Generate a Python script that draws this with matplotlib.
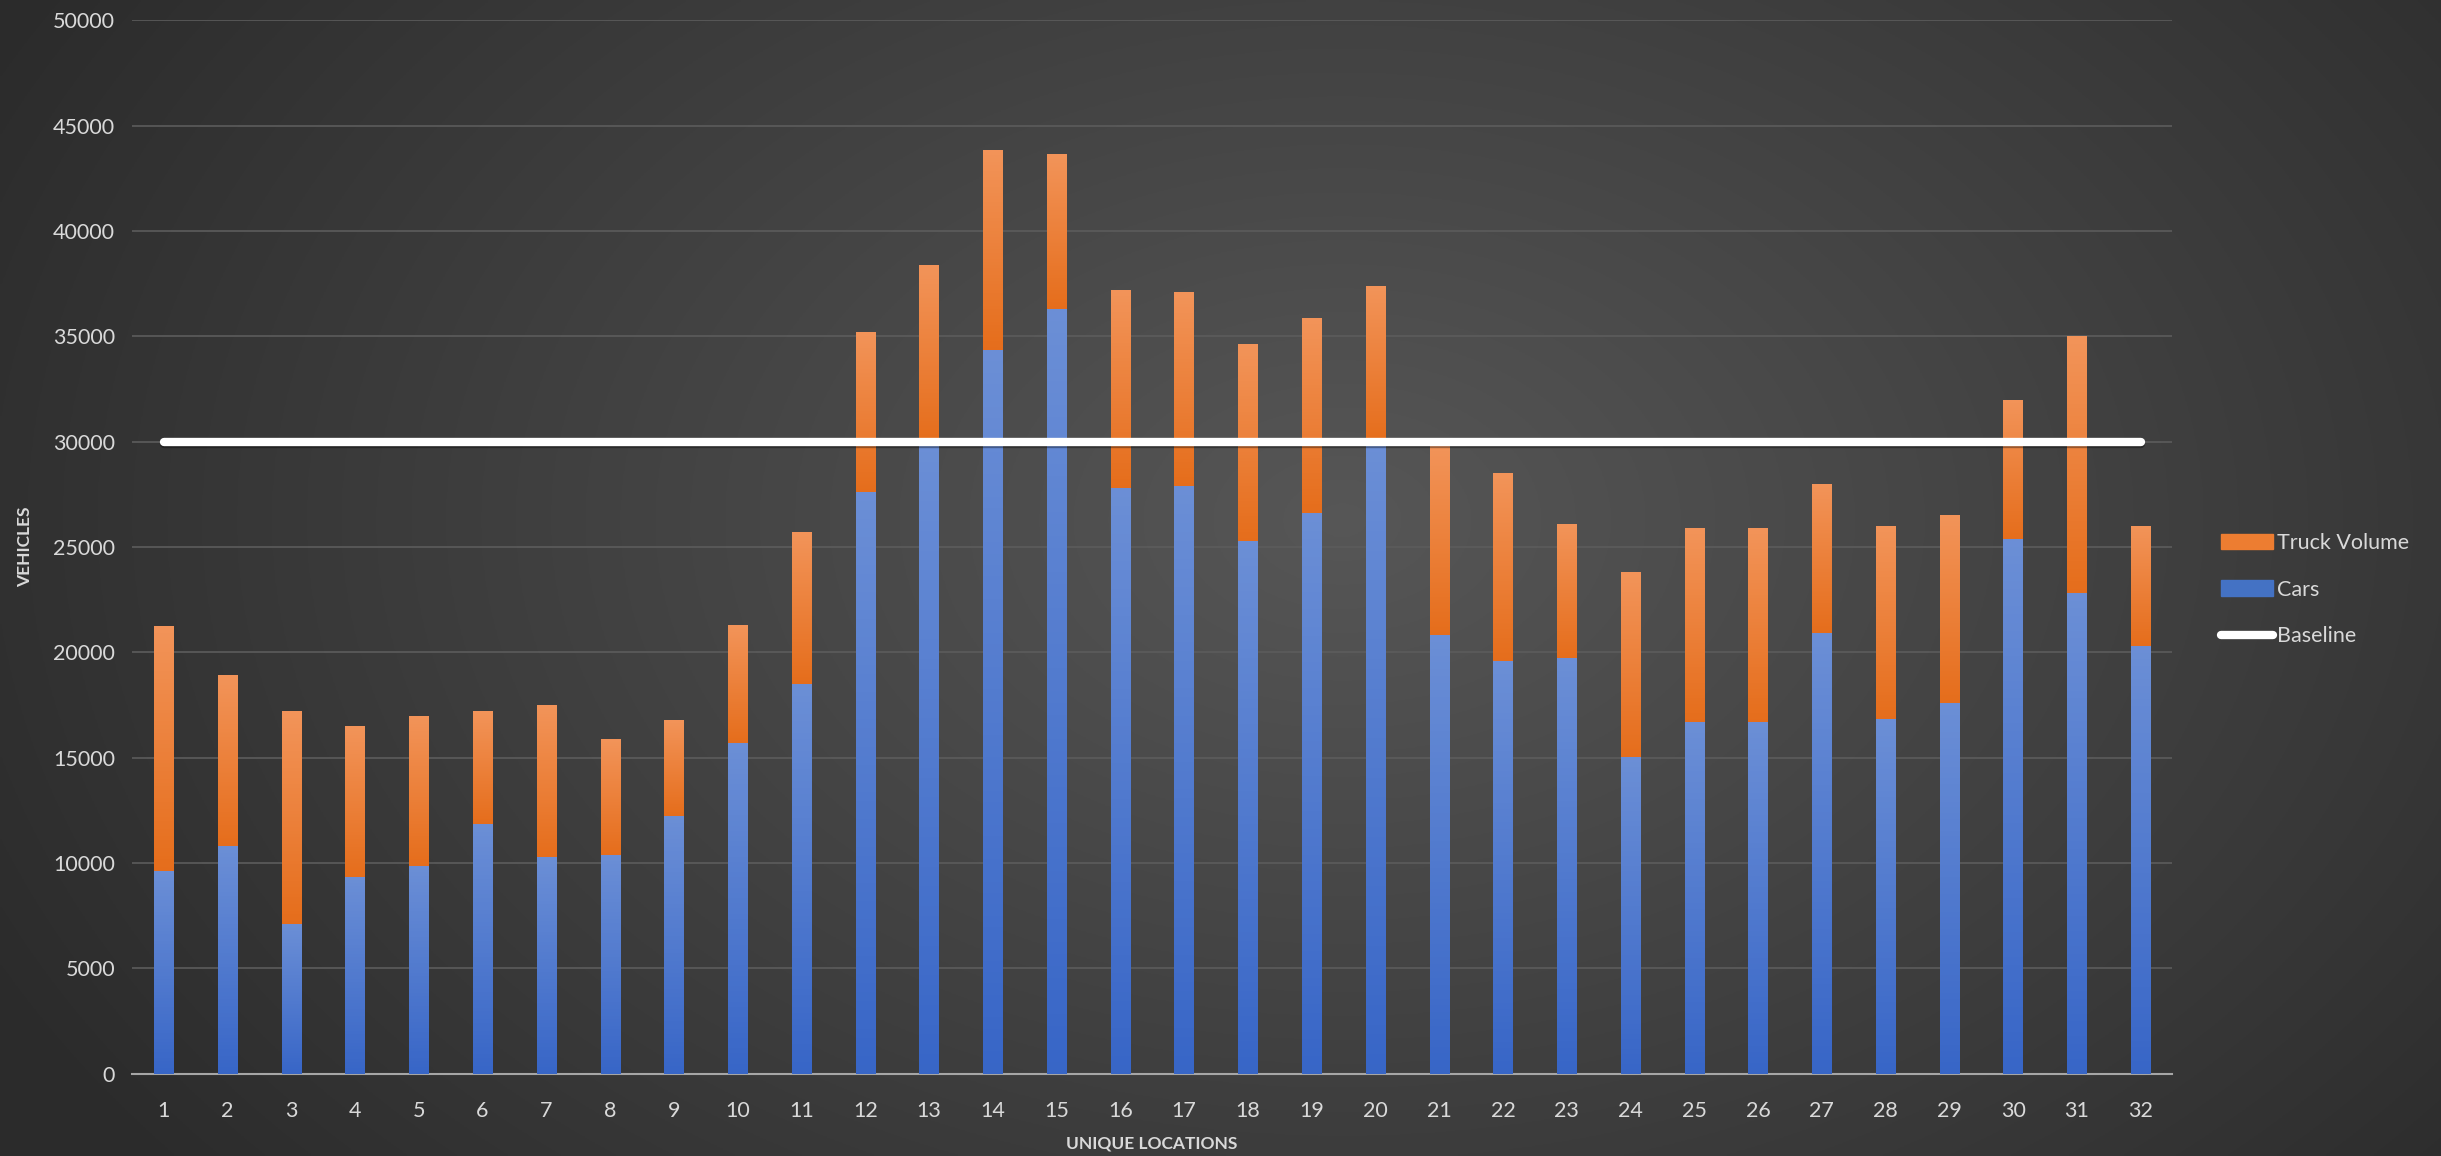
import numpy as np
import matplotlib.pyplot as plt
import matplotlib.patheffects as pe
from matplotlib.lines import Line2D
from matplotlib.patches import Patch

plt.rcParams['font.family'] = ['Lato', 'DejaVu Sans']

locations = list(range(1, 33))
cars = [9600, 10800, 7100, 9350, 9850, 11850, 10300, 10400, 12250, 15700,
        18500, 27600, 30000, 34350, 36300, 27800, 27900, 25300, 26600, 30000,
        20800, 19600, 19750, 15050, 16700, 16700, 20900, 16850, 17600, 25400,
        22800, 20300]
truck_volume = [11650, 8100, 10100, 7150, 7150, 5350, 7200, 5500, 4550, 5600,
                7200, 7600, 8400, 9500, 7350, 9400, 9200, 9350, 9250, 7400,
                9000, 8900, 6350, 8750, 9200, 9200, 7100, 9150, 8900, 6600,
                12200, 5700]
baseline = [30000] * len(locations)

text_col = '#d9d9d9'

fig = plt.figure(figsize=(24.41, 11.56), dpi=100)

# dark radial background
bg = fig.add_axes([0, 0, 1, 1], zorder=-10)
yy, xx = np.mgrid[0:1:400j, 0:1:800j]
r = np.sqrt(((xx - 0.55) / 0.62) ** 2 + ((yy - 0.45) / 0.9) ** 2)
shade = np.clip(1 - r, 0, 1)
lo, hi = np.array([0.17, 0.17, 0.17]), np.array([0.34, 0.34, 0.34])
img = lo + (hi - lo) * shade[..., None]
bg.imshow(img, extent=[0, 1, 0, 1], aspect='auto', origin='upper')
bg.axis('off')

ax = fig.add_axes([0.054, 0.0713, 0.836, 0.911])
ax.set_facecolor('none')

width = 0.3
car_bars = ax.bar(locations, cars, width, color='#4472c4', zorder=3)
truck_bars = ax.bar(locations, truck_volume, width, bottom=cars,
                    color='#ed7d31', zorder=3)


def shade_bars(bars, top, bottom):
    grad = np.linspace(0, 1, 64)[:, None, None]
    cols = np.array(top) + (np.array(bottom) - np.array(top)) * grad
    for b in bars:
        x0, y0 = b.get_x(), b.get_y()
        im = ax.imshow(cols, extent=[x0, x0 + b.get_width(), y0, y0 + b.get_height()],
                       aspect='auto', origin='upper', zorder=4)
        im.set_clip_path(b)


shade_bars(car_bars, (0.42, 0.56, 0.84), (0.22, 0.40, 0.78))
shade_bars(truck_bars, (0.95, 0.58, 0.35), (0.90, 0.43, 0.11))

ax.plot(locations, baseline, color='white', lw=6, solid_capstyle='round', zorder=6,
        path_effects=[pe.SimpleLineShadow(offset=(0, -2), shadow_color='black', alpha=0.35),
                      pe.Normal()])

ax.set_xlim(0.5, 32.5)
ax.set_ylim(0, 50000)
ax.set_yticks(range(0, 50001, 5000))
ax.set_xticks(locations)
ax.yaxis.grid(True, color='#5c5c5c', lw=1.2, zorder=0)
ax.set_axisbelow(True)
for s in ['top', 'right', 'left']:
    ax.spines[s].set_visible(False)
ax.spines['bottom'].set_color('#a6a6a6')
ax.spines['bottom'].set_linewidth(1.5)
ax.tick_params(axis='y', length=0, labelsize=15.5, colors=text_col, pad=12)
ax.tick_params(axis='x', length=0, labelsize=15.5, colors=text_col, pad=20)

ax.set_ylabel('VEHICLES', fontsize=12.5, fontweight='bold', color=text_col, labelpad=14)
ax.set_xlabel('UNIQUE LOCATIONS', fontsize=12.5, fontweight='bold', color=text_col, labelpad=10)

handles = [Patch(color='#ed7d31'), Patch(color='#4472c4'),
           Line2D([], [], color='white', lw=6, solid_capstyle='round')]
fig.legend(handles, ['Truck Volume', 'Cars', 'Baseline'], loc='center left',
           bbox_to_anchor=(0.902, 0.49), frameon=False, fontsize=15.5,
           labelcolor=text_col, handlelength=2.4, handletextpad=0.2, labelspacing=1.25)

fig.savefig('out.png', dpi=100)
